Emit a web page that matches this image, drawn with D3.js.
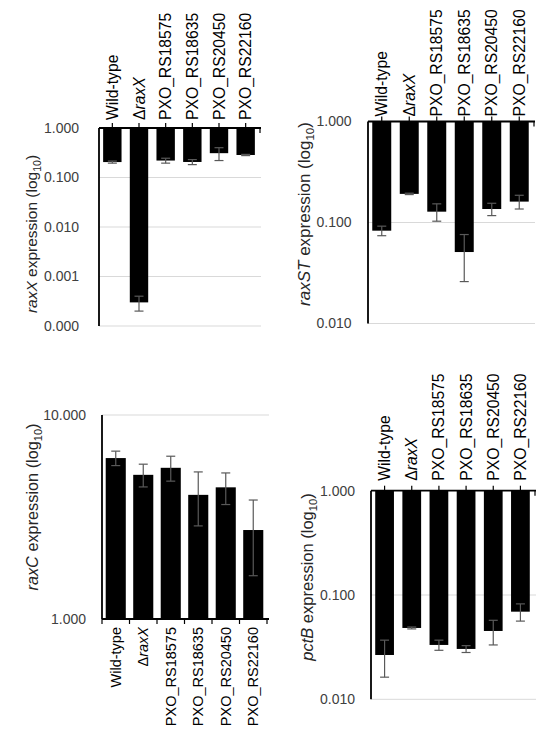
<!DOCTYPE html>
<html><head><meta charset="utf-8">
<script src="https://cdn.jsdelivr.net/npm/d3@7"></script>
<style>
html,body{margin:0;padding:0;background:#fff;}
svg{display:block;font-family:"Liberation Sans",Arial,sans-serif;}
</style></head>
<body>
<svg id="c" width="548" height="743"></svg>
<script>
// ---- data ----
const categories = ["Wild-type", "ΔraxX", "PXO_RS18575", "PXO_RS18635", "PXO_RS20450", "PXO_RS22160"];

const raxXValues = [0.205, 0.0003, 0.22, 0.206, 0.31, 0.285];
const raxXErrors = [0.01, 0.0001, 0.025, 0.024, 0.09, 0.008];
const raxXTicks  = [1, 0.1, 0.01, 0.001, 0.0001];

const raxSTValues = [0.083, 0.192, 0.128, 0.051, 0.136, 0.161];
const raxSTErrors = [0.009, 0.003, 0.025, 0.025, 0.019, 0.025];
const raxSTTicks  = [1, 0.1, 0.01];

const raxCValues = [6.15, 5.09, 5.51, 4.06, 4.42, 2.73];
const raxCErrors = [0.5, 0.65, 0.77, 1.2, 0.78, 1.1];
const raxCTicks  = [10, 1];

const pctBValues = [0.0266, 0.0483, 0.0332, 0.0304, 0.0452, 0.0692];
const pctBErrors = [0.0103, 0.001, 0.0037, 0.0023, 0.012, 0.013];
const pctBTicks  = [1, 0.1, 0.01];

const tickFmt = d3.format(".3f");

const svg = d3.select("#c");

function panel(cfg) {
  const g = svg.append("g");
  const x = d3.scaleBand().domain(categories).range([cfg.x0, cfg.x1]).paddingInner(cfg.pad).paddingOuter(cfg.pad / 2);
  const y = d3.scaleLog().domain(cfg.domain).range([cfg.yBottom, cfg.yTop]);
  const yBase = y(1);

  // gridlines
  g.selectAll("line.grid").data(cfg.ticks.filter(t => t !== 1)).join("line")
    .attr("x1", cfg.x0).attr("x2", cfg.x1 + 2)
    .attr("y1", d => y(d)).attr("y2", d => y(d))
    .attr("stroke", "#d9d9d9").attr("stroke-width", 1);

  // tick labels
  g.selectAll("text.tick").data(cfg.ticks).join("text")
    .attr("x", cfg.x0 - cfg.labelGap).attr("y", d => y(d)).attr("dy", "0.35em")
    .attr("text-anchor", "end").attr("font-size", 14).attr("fill", "#404040")
    .text(d => tickFmt(d));

  // bars
  g.selectAll("rect.bar").data(cfg.values).join("rect")
    .attr("x", (d, i) => x(categories[i])).attr("width", x.bandwidth())
    .attr("y", d => Math.min(y(d), yBase)).attr("height", d => Math.abs(y(d) - yBase))
    .attr("fill", "#000");

  // error bars
  const eb = g.selectAll("g.err").data(cfg.values).join("g");
  const cx = i => x(categories[i]) + x.bandwidth() / 2;
  eb.append("line")
    .attr("x1", (d, i) => cx(i)).attr("x2", (d, i) => cx(i))
    .attr("y1", (d, i) => y(d + cfg.errors[i])).attr("y2", (d, i) => y(d - cfg.errors[i]))
    .attr("stroke", "#595959").attr("stroke-width", 1.2);
  eb.append("line")
    .attr("x1", (d, i) => cx(i) - 4.5).attr("x2", (d, i) => cx(i) + 4.5)
    .attr("y1", (d, i) => y(d + cfg.errors[i])).attr("y2", (d, i) => y(d + cfg.errors[i]))
    .attr("stroke", "#595959").attr("stroke-width", 1.2);
  eb.append("line")
    .attr("x1", (d, i) => cx(i) - 4.5).attr("x2", (d, i) => cx(i) + 4.5)
    .attr("y1", (d, i) => y(d - cfg.errors[i])).attr("y2", (d, i) => y(d - cfg.errors[i]))
    .attr("stroke", "#595959").attr("stroke-width", 1.2);

  // y axis line
  g.append("line").attr("x1", cfg.x0).attr("x2", cfg.x0)
    .attr("y1", cfg.yTop).attr("y2", cfg.yBottom)
    .attr("stroke", "#000").attr("stroke-width", 1.8);

  // category axis line
  g.append("line").attr("x1", cfg.x0).attr("x2", cfg.x1 + 2)
    .attr("y1", yBase).attr("y2", yBase)
    .attr("stroke", "#000").attr("stroke-width", 1.8);

  // category ticks
  const tdir = cfg.axisTop ? -5 : 5;
  let tickXs;
  if (cfg.tickAtCenter) {
    tickXs = categories.map((c, i) => cx(i)).concat([cfg.x1 + 1]);
  } else {
    const step = x.step();
    tickXs = d3.range(categories.length + 1).map(i => cfg.x0 + i * step);
  }
  g.selectAll("line.ct").data(tickXs).join("line")
    .attr("x1", d => d).attr("x2", d => d)
    .attr("y1", yBase).attr("y2", (d, i) => (cfg.tickAtCenter && i === tickXs.length - 1) ? yBase + 5 : yBase + tdir)
    .attr("stroke", "#000").attr("stroke-width", 1.2);

  // category labels
  const cl = g.selectAll("text.cat").data(categories).join("text")
    .attr("transform", (d, i) => `translate(${cx(i)},${cfg.axisTop ? yBase - cfg.catGap : yBase + cfg.catGap}) rotate(-90)`)
    .attr("dy", "0.35em")
    .attr("text-anchor", cfg.axisTop ? "start" : "end")
    .attr("font-size", cfg.catSize).attr("fill", "#000");
  cl.each(function(d) {
    const t = d3.select(this);
    if (d.startsWith("Δ")) {
      t.append("tspan").text("Δ");
      t.append("tspan").attr("font-style", "italic").text(d.slice(1));
    } else {
      t.text(d);
    }
  });

  // y title
  const tt = g.append("text")
    .attr("transform", `translate(${cfg.titleX},${cfg.titleY}) rotate(-90)`)
    .attr("dy", "0.35em").attr("text-anchor", "middle")
    .attr("font-size", cfg.titleSize).attr("fill", "#262626");
  tt.append("tspan").attr("font-style", "italic").text(cfg.gene);
  tt.append("tspan").text(" expression (log");
  tt.append("tspan").attr("font-size", cfg.titleSize * 0.68).attr("dy", 4).text("10");
  tt.append("tspan").attr("dy", -4).text(")");
}

panel({ x0: 99, x1: 259, yTop: 128, yBottom: 326, domain: [0.0001, 1], ticks: raxXTicks,
        values: raxXValues, errors: raxXErrors, pad: 0.31, axisTop: true, tickAtCenter: true,
        labelGap: 20, catGap: 8, catSize: 15.7, gene: "raxX", titleX: 32, titleY: 234, titleSize: 15.5 });

panel({ x0: 368, x1: 533, yTop: 121.5, yBottom: 323.5, domain: [0.01, 1], ticks: raxSTTicks,
        values: raxSTValues, errors: raxSTErrors, pad: 0.31, axisTop: true, tickAtCenter: true,
        labelGap: 16.5, catGap: 5, catSize: 15.7, gene: "raxST", titleX: 304, titleY: 214, titleSize: 17 });

panel({ x0: 102, x1: 267, yTop: 415, yBottom: 619, domain: [1, 10], ticks: raxCTicks,
        values: raxCValues, errors: raxCErrors, pad: 0.27, axisTop: false, tickAtCenter: false,
        labelGap: 16, catGap: 8, catSize: 14.5, gene: "raxC", titleX: 32, titleY: 507, titleSize: 16.3 });

panel({ x0: 371, x1: 534, yTop: 490.7, yBottom: 699.3, domain: [0.01, 1], ticks: pctBTicks,
        values: pctBValues, errors: pctBErrors, pad: 0.31, axisTop: true, tickAtCenter: true,
        labelGap: 16, catGap: 10, catSize: 15.7, gene: "pctB", titleX: 307, titleY: 577, titleSize: 16.5 });
</script>
</body></html>
